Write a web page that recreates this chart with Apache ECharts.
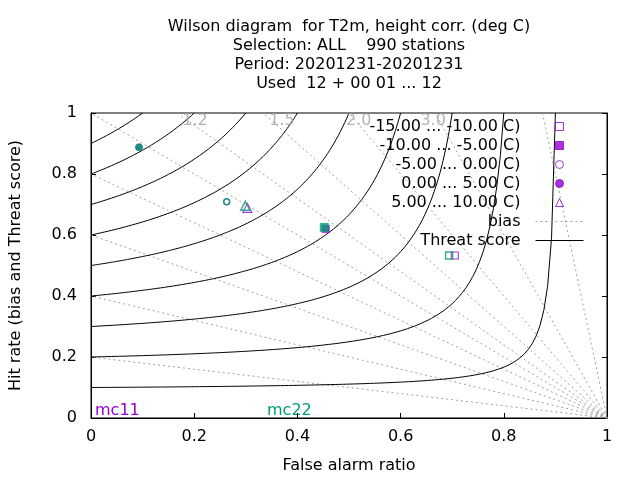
<!DOCTYPE html>
<html>
<head>
<meta charset="utf-8">
<script src="https://cdn.jsdelivr.net/npm/echarts@6/dist/echarts.min.js"></script>
<style>
html, body { margin: 0; padding: 0; background: #fff; }
#container { width: 640px; height: 480px; }
</style>
</head>
<body>
<div id="container"></div>
<script>
// temperature classes (legend text as in the original)
var classNames = [
    '-15.00 ... -10.00 C)',
    '-10.00 ... -5.00 C)',
    '-5.00 ... 0.00 C)',
    '0.00 ... 5.00 C)',
    '5.00 ... 10.00 C)'
];
// false alarm ratio / hit rate per class
var mc11FAR = [0.705, 0.455, 0.263, 0.093, 0.303];
var mc11Hit = [0.533, 0.620, 0.709, 0.888, 0.689];
var mc22FAR = [0.694, 0.452, 0.263, 0.093, 0.299];
var mc22Hit = [0.533, 0.625, 0.709, 0.888, 0.696];

// isoline levels of the diagram
var biasLevels = [0.2, 0.4, 0.6, 0.8, 1.0, 1.2, 1.5, 2.0, 3.0, 8.0];
var threatLevels = [0.1, 0.2, 0.3, 0.4, 0.5, 0.6, 0.7, 0.8, 0.9];
var biasLabelText = ['1.2', '1.5', '2.0', '3.0'];

var PURPLE = '#9400d3', GREEN = '#009e73', GREY = '#a0a0a0';
var FONT = 'DejaVu Sans';
var FS = 16;

var dom = document.getElementById('container');
var myChart = echarts.init(dom);

// bias = hit / (1 - far): straight lines out of (1,0)
function biasLine(b) {
    if (b <= 1) return [[1, 0], [0, b]];
    return [[1, 0], [1 - 1 / b, 1]];
}
// threat score t: hit = 1 / (1/t + 1 - 1/(1-far)), up to hit = 1
function threatCurve(t) {
    var pts = [], n = 120, fEnd = 1 - t;
    for (var i = 0; i <= n; i++) {
        var f = fEnd * i / n;
        pts.push([f, 1 / (1 / t + 1 - 1 / (1 - f))]);
    }
    return pts;
}

var series = [];
biasLevels.forEach(function (b) {
    series.push({
        name: 'bias', type: 'line', data: biasLine(b),
        symbol: 'none', silent: true, z: 1,
        lineStyle: { color: GREY, width: 1, type: [2, 3] },
        itemStyle: { color: GREY }
    });
});
threatLevels.forEach(function (t) {
    series.push({
        name: 'Threat score', type: 'line', data: threatCurve(t),
        symbol: 'none', silent: true, z: 2,
        lineStyle: { color: '#000', width: 1 },
        itemStyle: { color: '#000' }
    });
});

// bias labels near the top edge
var biasLabelX = [0.2016, 0.370, 0.519, 0.663];
series.push({
    type: 'scatter', silent: true, symbolSize: 0, z: 2,
    data: biasLabelText.map(function (s, i) { return [biasLabelX[i], 0.974, s]; }),
    label: {
        show: true, position: 'inside', color: GREY,
        fontFamily: FONT, fontSize: FS,
        formatter: function (p) { return p.value[2]; }
    }
});

var symbols = ['rect', 'rect', 'circle', 'circle', 'triangle'];
var filled = [false, true, false, true, false];
var sizes = [7, 8, 6, 7, 9];
// the mc22 marks sit on top; a slightly heavier outline keeps coincident mc11 marks from tinting them
function pointSeries(i, color, far, hit, top) {
    return {
        name: classNames[i], type: 'scatter', z: top ? 6 : 5,
        symbol: symbols[i], symbolSize: sizes[i],
        data: [[far[i], hit[i]]],
        itemStyle: filled[i]
            ? { color: color, borderColor: color, borderWidth: top ? 0.8 : 0 }
            : { color: 'rgba(0,0,0,0)', borderColor: color, borderWidth: top ? 1.5 : 1.1 }
    };
}
for (var i = 0; i < classNames.length; i++) {
    series.push(pointSeries(i, PURPLE, mc11FAR, mc11Hit, false));
    series.push(pointSeries(i, GREEN, mc22FAR, mc22Hit, true));
}

var legendText = { fontFamily: FONT, fontSize: FS, color: '#000', lineHeight: 19 };

option = {
    animation: false,
    backgroundColor: '#fff',
    textStyle: { fontFamily: FONT },
    title: {
        text: 'Wilson diagram  for T2m, height corr. (deg C)\nSelection: ALL    990 stations\nPeriod: 20201231-20201231\nUsed  12 + 00 01 ... 12',
        left: 349, top: 17, padding: 0, textAlign: 'center',
        textStyle: { fontFamily: FONT, fontSize: FS, fontWeight: 'normal', color: '#000', lineHeight: 19 }
    },
    legend: [{
        orient: 'vertical', align: 'right',
        right: 76, top: 117, padding: 0,
        itemWidth: 8, itemHeight: 8, itemGap: 0,
        selectedMode: false,
        itemStyle: { borderWidth: 1 },
        textStyle: Object.assign({ padding: [0, 30, 0, 0] }, legendText),
        data: classNames
    }, {
        orient: 'vertical', align: 'right',
        right: 56, top: 212, padding: 0,
        itemWidth: 48, itemHeight: 8, itemGap: 0,
        selectedMode: false,
        lineStyle: { width: 1 },
        textStyle: Object.assign({ padding: [0, 10, 0, 0] }, legendText),
        data: [
            { name: 'bias', itemStyle: { opacity: 0 }, lineStyle: { width: 1 } },
            { name: 'Threat score', itemStyle: { opacity: 0 }, lineStyle: { width: 1 } }
        ]
    }],
    grid: {
        left: 91, right: 33, top: 113, bottom: 62,
        show: true, borderColor: '#000', borderWidth: 1,
        containLabel: false, outerBoundsMode: 'none'
    },
    xAxis: {
        type: 'value', min: 0, max: 1, interval: 0.2,
        name: 'False alarm ratio', nameLocation: 'middle', nameGap: 40,
        nameTextStyle: { fontFamily: FONT, fontSize: FS, color: '#000' },
        axisLine: { show: true, lineStyle: { color: '#000', width: 1 } },
        axisTick: { show: true, inside: true, length: 5, lineStyle: { color: '#000' } },
        axisLabel: { margin: 11, fontFamily: FONT, fontSize: FS, color: '#000' },
        splitLine: { show: false }
    },
    yAxis: [{
        type: 'value', min: 0, max: 1, interval: 0.2,
        name: 'Hit rate (bias and Threat score)', nameLocation: 'middle', nameGap: 67,
        nameTextStyle: { fontFamily: FONT, fontSize: FS, color: '#000' },
        axisLine: { show: true, lineStyle: { color: '#000', width: 1 } },
        axisTick: { show: true, inside: true, length: 5, lineStyle: { color: '#000' } },
        axisLabel: { margin: 14, fontFamily: FONT, fontSize: FS, color: '#000' },
        splitLine: { show: false }
    }, {
        type: 'value', min: 0, max: 1, interval: 0.2, position: 'right',
        axisLine: { show: true, lineStyle: { color: '#000', width: 1 } },
        axisTick: { show: true, inside: true, length: 5, lineStyle: { color: '#000' } },
        axisLabel: { show: false },
        splitLine: { show: false }
    }],
    graphic: [
        { type: 'text', x: 95, y: 411, style: { text: 'mc11', fill: PURPLE, fontFamily: FONT, fontSize: FS, verticalAlign: 'middle' } },
        { type: 'text', x: 267, y: 411, style: { text: 'mc22', fill: GREEN, fontFamily: FONT, fontSize: FS, verticalAlign: 'middle' } }
    ],
    series: series
};

if (option && typeof option === 'object') {
    myChart.setOption(option, false);
}
</script>
</body>
</html>
